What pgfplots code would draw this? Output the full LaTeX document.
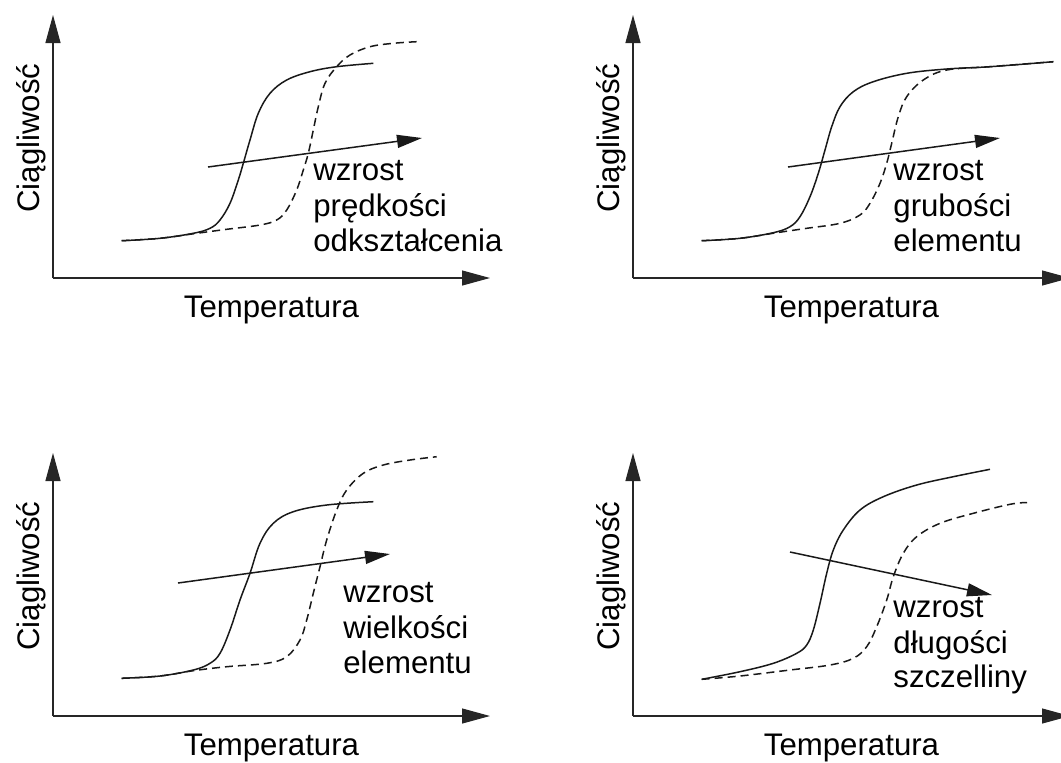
\documentclass[border=0pt]{standalone}
\usepackage{fontspec}
\setmainfont{Liberation Sans}
\usepackage{pgfplots}
\pgfplotsset{compat=1.18}
\usetikzlibrary{arrows.meta}

% one unit = one pixel of the reference (0.5pt)
\pgfplotsset{
  panel/.style={
    x=0.5pt, y=0.5pt, xmin=0, xmax=437, ymin=0, ymax=263,
    axis lines=left, xtick=\empty, ytick=\empty,
    axis line style={line width=0.6pt, black!85, -{Triangle[length=14pt,width=7.5pt]}},
    anchor=south west, clip=false,
  },
  solid curve/.style={line width=0.75pt, black!90, smooth, tension=0.6, no marks},
  dashed curve/.style={line width=0.75pt, black!90, smooth, tension=0.6, no marks, dash pattern=on 4pt off 2.5pt},
  trend/.style={line width=0.75pt, black!90, no marks, -{Triangle[length=12.5pt,width=6.5pt]}},
}
\tikzset{
  txt/.style={anchor=base west, inner sep=0pt, font=\lbl},
  xlab/.style={anchor=base, inner sep=0pt, font=\lbl},
  ylab/.style={anchor=base, rotate=90, inner sep=0pt, font=\lbl},
}
\newcommand{\lbl}{\fontsize{15.6}{18}\selectfont}

\begin{document}
\begin{tikzpicture}
\useasboundingbox (0,0) rectangle (530.5pt,-381pt);

% top left
\begin{axis}[panel, at={(26.5pt,-139pt)}]
  \addplot[solid curve] coordinates {
    (68.7,37.3) (107,39.7) (140.3,44.7) (157,49.7) (167,58) (177,74.7)
    (185.3,98) (190.3,114.7) (197,138) (205.3,164.7) (217,184.7)
    (233.7,198) (257,206.3) (283.7,211.3) (320.3,214.7)};
  \addplot[dashed curve] coordinates {
    (68.7,37.3) (107,39.7) (143.7,44.7) (173.7,48.7) (207,53) (223.7,58)
    (233.7,68) (243.7,88) (250.3,108) (255.3,124.7) (260.3,148)
    (265.3,171.3) (272,194.7) (283.7,211.3) (297,223) (317,231.3)
    (340.3,234.7) (363.7,236.3)};
  \addplot[trend] coordinates {(155,111) (369,140)};
  \node[txt] at (axis cs:260,98) {wzrost};
  \node[txt] at (axis cs:260,62) {prędkości};
  \node[txt] at (axis cs:260,27) {odkształcenia};
  \node[xlab] at (axis cs:218.5,-39) {Temperatura};
  \node[ylab] at (axis cs:-13.5,140) {Ciągliwość};
\end{axis}

% top right
\begin{axis}[panel, at={(316.5pt,-139pt)}]
  \addplot[solid curve] coordinates {
    (68.7,37.3) (107,39.7) (140.3,45.3) (157,51.3) (167,61.3) (177,81.3)
    (185.3,104.7) (192,128) (198.7,151.3) (207,171.3) (220.3,186.3)
    (240.3,196.3) (273.7,204.7) (313.7,209) (357,211.3) (420.3,216.3)};
  \addplot[dashed curve] coordinates {
    (68.7,37.3) (107,39.7) (143.7,45.3) (173.7,49.7) (207,54.7) (227,63)
    (237,74.7) (247,94.7) (253.7,114.7) (258.7,134.7) (265.3,161.3)
    (273.7,181.3) (290.3,198) (313.7,208) (357,211.3) (420.3,216.3)};
  \addplot[trend] coordinates {(155,111) (367,140)};
  \node[txt] at (axis cs:260,98) {wzrost};
  \node[txt] at (axis cs:260,62) {grubości};
  \node[txt] at (axis cs:260,27) {elementu};
  \node[xlab] at (axis cs:218.5,-39) {Temperatura};
  \node[ylab] at (axis cs:-13.5,140) {Ciągliwość};
\end{axis}

% bottom left
\begin{axis}[panel, at={(26.5pt,-358pt)}]
  \addplot[solid curve] coordinates {
    (68.7,37.7) (107,40) (140.3,46) (157,52.7) (167,62.7) (177,86)
    (187,116) (197,142.7) (207,172.7) (220.3,192.7) (240.3,204.3)
    (273.7,211) (320.3,214.3)};
  \addplot[dashed curve] coordinates {
    (68.7,37.7) (107,40) (140.3,45.3) (173.7,49.3) (213.7,52.7)
    (233.7,59.3) (247,76) (253.7,96) (260.3,122.7) (267,149.3)
    (273.7,176) (283.7,206) (293.7,226) (310.3,242.7) (330.3,251)
    (357,256) (383.7,259.3)};
  \addplot[trend] coordinates {(125,133) (337,162)};
  \node[txt] at (axis cs:290,114) {wzrost};
  \node[txt] at (axis cs:290,78) {wielkości};
  \node[txt] at (axis cs:290,43) {elementu};
  \node[xlab] at (axis cs:218.5,-39) {Temperatura};
  \node[ylab] at (axis cs:-13.5,140) {Ciągliwość};
\end{axis}

% bottom right
\begin{axis}[panel, at={(316.5pt,-358pt)}]
  \addplot[solid curve] coordinates {
    (68.7,36.7) (107,44.3) (140.3,52.7) (163.7,62.7) (173.7,71) (180.3,86)
    (187,112.7) (193.7,142.7) (200.3,166) (210.3,186) (227,206)
    (250.3,219.3) (283.7,231) (320.3,239.3) (357,246.7)};
  \addplot[dashed curve] coordinates {
    (68.7,36.7) (107,40) (157,46) (197,51) (220.3,57.7) (233.7,69.3)
    (243.7,89.3) (253.7,116) (260.3,139.3) (270.3,162.7) (283.7,179.3)
    (307,192.7) (340.3,202.7) (377,211.7) (394,213.5)};
  \addplot[trend] coordinates {(157,164) (359,121)};
  \node[txt] at (axis cs:260,99) {wzrost};
  \node[txt] at (axis cs:260,63) {długości};
  \node[txt] at (axis cs:260,29) {szczelliny};
  \node[xlab] at (axis cs:218.5,-39) {Temperatura};
  \node[ylab] at (axis cs:-13.5,140) {Ciągliwość};
\end{axis}
\end{tikzpicture}
\end{document}
